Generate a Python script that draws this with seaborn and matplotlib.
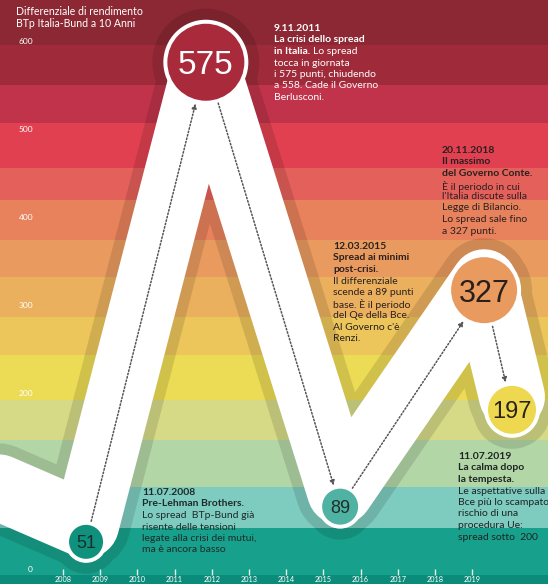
import matplotlib
matplotlib.use("Agg")
import matplotlib.pyplot as plt
import matplotlib.colors as mcolors
from matplotlib.patches import Rectangle
import seaborn as sns
import pandas as pd

# ---------------- data ----------------
event_dates = ["11.07.2008", "9.11.2011", "12.03.2015", "20.11.2018", "11.07.2019"]
event_x = [2008.62, 2011.84, 2015.45, 2019.32, 2020.07]   # place along the time axis
spread = [51, 575, 89, 327, 197]                          # spread BTp-Bund (punti base)
badge_y = [32, 577, 72, 318, 182]                         # height of the numbered badges
lead_in_x = [2004.69]                                     # path enters from the left
lead_in_y = [123]
years = list(range(2008, 2020))
y_labels = [0, 100, 200, 300, 400, 500, 600]
band_edges = [-40, -6, 48, 94, 148, 193, 244, 288, 333, 375, 420, 457, 508, 551, 597, 700]
band_colors = ["#0b8b79", "#17a08b", "#7ecbbf", "#b3d6a6", "#d6da86", "#ecdb55",
               "#ecc65a", "#ebb05e", "#e99a5e", "#e8825c", "#e4605a", "#e0404f",
               "#c0334a", "#9f2b3a", "#8b2833"]
badge_colors = ["#10917e", "#a82a3b", "#4fb2a2", "#e99b5f", "#eed84f"]
badge_text_colors = ["#15302c", "white", "#1f2f2d", "#2a1f1a", "#2a2418"]
badge_diam_px = [34, 77, 36, 66, 48]
badge_font = [13, 24, 13, 22, 17]

title_lines = ["Differenziale di rendimento", "BTp Italia-Bund a 10 Anni"]

note_2011 = [[("9.11.2011", True)],
             [("La crisi dello spread", True)],
             [("in Italia.", True), ("Lo spread", False)],
             [("tocca in giornata", False)],
             [("i 575 punti, chiudendo", False)],
             [("a 558. Cade il Governo", False)],
             [("Berlusconi.", False)]]
note_2018 = [[("20.11.2018", True)],
             [("Il massimo", True)],
             [("del Governo Conte.", True)],
             [("È il periodo in cui", False)],
             [("l'Italia discute sulla", False)],
             [("Legge di Bilancio.", False)],
             [("Lo spread sale fino", False)],
             [("a 327 punti.", False)]]
note_2015 = [[("12.03.2015", True)],
             [("Spread ai minimi", True)],
             [("post-crisi.", True)],
             [("Il differenziale", False)],
             [("scende a 89 punti", False)],
             [("base. È il periodo", False)],
             [("del Qe della Bce.", False)],
             [("Al Governo c'è", False)],
             [("Renzi.", False)]]
note_2008 = [[("11.07.2008", True)],
             [("Pre-Lehman Brothers.", True)],
             [("Lo spread  BTp-Bund già", False)],
             [("risente delle tensioni", False)],
             [("legate alla crisi dei mutui,", False)],
             [("ma è ancora basso", False)]]
note_2019 = [[("11.07.2019", True)],
             [("La calma dopo", True)],
             [("la tempesta.", True)],
             [("Le aspettative sulla", False)],
             [("Bce più lo scampato", False)],
             [("rischio di una", False)],
             [("procedura Ue:", False)],
             [("spread sotto  200", False)]]

# ---------------- figure ----------------
sns.set_theme(style="white")
FONT = ["Lato", "DejaVu Sans"]
plt.rcParams["font.family"] = FONT

W, H, DPI = 548, 584, 100
PT = 72 / DPI                      # points per pixel
fig = plt.figure(figsize=(W / DPI, H / DPI), dpi=DPI)
ax = fig.add_axes([0, 0, 1, 1])
PX_PER_YEAR = 37.2
X0 = 2008 - 63 / PX_PER_YEAR
XMAX = X0 + W / PX_PER_YEAR
ax.set_xlim(X0, XMAX)
ax.set_ylim(-14 / 0.88, 570 / 0.88)
ax.axis("off")

RIBBON_PX = 66
HALO_PX = 11
RING_PX = 4

path_x = lead_in_x + event_x
path_y = lead_in_y + spread


def darker(c, f=0.88):
    r, g, b = mcolors.to_rgb(c)
    return (r * f, g * f, b * f)


# background bands, and the darker halo of the ribbon inside each band
for lo, hi, c in zip(band_edges[:-1], band_edges[1:], band_colors):
    ax.axhspan(lo, hi, color=c, lw=0, zorder=0)
    clip = Rectangle((X0 - 5, lo), XMAX - X0 + 10, hi - lo, transform=ax.transData)
    ln, = ax.plot(path_x, path_y, color=darker(c), lw=(RIBBON_PX + 2 * HALO_PX) * PT,
                  solid_joinstyle="round", solid_capstyle="round", zorder=2)
    ln.set_clip_path(clip)
    sc = ax.scatter(event_x, badge_y, color=darker(c), edgecolors="none",
                    s=[((d + 2 * RING_PX + 2 * HALO_PX) * PT) ** 2 for d in badge_diam_px],
                    zorder=2)
    sc.set_clip_path(clip)

# y labels
for v in y_labels:
    ax.text(X0 + 33 / PX_PER_YEAR, v, str(v), color="white", fontsize=6,
            ha="right", va="center", zorder=1)

# white ribbon
path_df = pd.DataFrame({"x": path_x, "y": path_y})
sns.lineplot(data=path_df, x="x", y="y", sort=False, estimator=None, ax=ax,
             color="white", linewidth=RIBBON_PX * PT, legend=False,
             solid_joinstyle="round", solid_capstyle="round", zorder=3)
ax.scatter(event_x, badge_y, color="white", edgecolors="none",
           s=[((d + 2 * RING_PX) * PT) ** 2 for d in badge_diam_px], zorder=3)

# dotted arrows between badges
for i in range(len(event_x) - 1):
    ax.annotate("", xy=(event_x[i + 1], badge_y[i + 1]), xytext=(event_x[i], badge_y[i]),
                arrowprops=dict(arrowstyle="-|>", color="#555555", lw=1.1,
                                linestyle=(0, (1, 1.3)), mutation_scale=7,
                                shrinkA=badge_diam_px[i] * PT / 2 + 3,
                                shrinkB=badge_diam_px[i + 1] * PT / 2 + 3),
                zorder=4)

# badges
for xv, yv, val, c, tc, d, fs in zip(event_x, badge_y, spread, badge_colors,
                                      badge_text_colors, badge_diam_px, badge_font):
    sns.scatterplot(x=[xv], y=[yv], s=(d * PT) ** 2, color=c, edgecolor="none",
                    linewidth=0, ax=ax, zorder=5, legend=False)
    ax.text(xv, yv, str(val), color=tc, fontsize=fs, ha="center", va="center_baseline",
            family=["Liberation Sans", "DejaVu Sans"], zorder=6)

# x axis ticks and labels
ax.vlines(years, 1.1, -5.7, color="#e8f4f0", lw=1, zorder=6)
for yr in years:
    ax.text(yr, -10.8, str(yr), color="white", fontsize=5.3, ha="center",
            va="center", zorder=6)

# texts
renderer = fig.canvas.get_renderer()


def rich_block(x, y, lines, color, size=7.5, step=11.5):
    for i, segs in enumerate(lines):
        cx = x
        for txt, bold in segs:
            t = fig.text(cx / W, 1 - (y + i * step) / H, txt, color=color, fontsize=size,
                         fontweight="bold" if bold else "normal", ha="left", va="top",
                         zorder=10)
            bb = t.get_window_extent(renderer)
            cx += bb.width + 0.28 * size / PT


for i, line in enumerate(title_lines):
    fig.text(16 / W, 1 - (6 + i * 12) / H, line, color="white", fontsize=7.6,
             ha="left", va="top", zorder=10)

rich_block(274, 24, note_2011, "white")
rich_block(442, 146, note_2018, "#2a2020")
rich_block(333, 242, note_2015, "#2a2020")
rich_block(142, 488, note_2008, "#1e2b2a")
rich_block(458, 452, note_2019, "#1e2424")

fig.savefig("out.png", dpi=DPI)
